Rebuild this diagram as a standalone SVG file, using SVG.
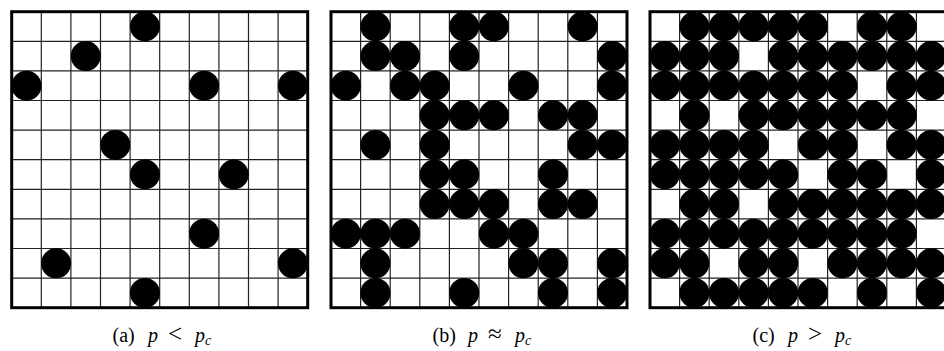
<svg xmlns="http://www.w3.org/2000/svg" xmlns:xlink="http://www.w3.org/1999/xlink" width="944" height="351" viewBox="0 0 944 351">
<style>
.grid{fill:none;stroke:#222;stroke-width:1.2}
.border{fill:none;stroke:#000;stroke-width:3}
.cap{font-family:"Liberation Serif",serif;font-size:20px;fill:#000}
.it{font-style:italic}
.op{font-size:25px}
</style>
<defs>
<circle id="dot" cx="0" cy="0" r="15" fill="#000"/>
<path id="lines" d="M29.6 0V296M59.2 0V296M88.8 0V296M118.4 0V296M148 0V296M177.6 0V296M207.2 0V296M236.8 0V296M266.4 0V296M0 29.6H296M0 59.2H296M0 88.8H296M0 118.4H296M0 148H296M0 177.6H296M0 207.2H296M0 236.8H296M0 266.4H296"/>
</defs>
<rect width="944" height="351" fill="#fff"/>
<g id="panel-a" transform="translate(11.7,11.7)">
<use href="#lines" class="grid"/>
<use href="#dot" x="133.2" y="14.8"/>
<use href="#dot" x="74" y="44.4"/>
<use href="#dot" x="14.8" y="74"/><use href="#dot" x="192.4" y="74"/><use href="#dot" x="281.2" y="74"/>
<use href="#dot" x="103.6" y="133.2"/>
<use href="#dot" x="133.2" y="162.8"/><use href="#dot" x="222" y="162.8"/>
<use href="#dot" x="192.4" y="222"/>
<use href="#dot" x="44.4" y="251.6"/><use href="#dot" x="281.2" y="251.6"/>
<use href="#dot" x="133.2" y="281.2"/>
<rect class="border" x="0" y="0" width="296" height="296"/>
</g>
<g id="panel-b" transform="translate(331,11.7)">
<use href="#lines" class="grid"/>
<use href="#dot" x="44.4" y="14.8"/><use href="#dot" x="133.2" y="14.8"/><use href="#dot" x="162.8" y="14.8"/><use href="#dot" x="251.6" y="14.8"/>
<use href="#dot" x="44.4" y="44.4"/><use href="#dot" x="74" y="44.4"/><use href="#dot" x="133.2" y="44.4"/><use href="#dot" x="281.2" y="44.4"/>
<use href="#dot" x="14.8" y="74"/><use href="#dot" x="74" y="74"/><use href="#dot" x="103.6" y="74"/><use href="#dot" x="192.4" y="74"/><use href="#dot" x="281.2" y="74"/>
<use href="#dot" x="103.6" y="103.6"/><use href="#dot" x="133.2" y="103.6"/><use href="#dot" x="162.8" y="103.6"/><use href="#dot" x="222" y="103.6"/><use href="#dot" x="251.6" y="103.6"/>
<use href="#dot" x="44.4" y="133.2"/><use href="#dot" x="103.6" y="133.2"/><use href="#dot" x="251.6" y="133.2"/><use href="#dot" x="281.2" y="133.2"/>
<use href="#dot" x="103.6" y="162.8"/><use href="#dot" x="133.2" y="162.8"/><use href="#dot" x="222" y="162.8"/>
<use href="#dot" x="103.6" y="192.4"/><use href="#dot" x="133.2" y="192.4"/><use href="#dot" x="162.8" y="192.4"/><use href="#dot" x="222" y="192.4"/><use href="#dot" x="251.6" y="192.4"/>
<use href="#dot" x="14.8" y="222"/><use href="#dot" x="44.4" y="222"/><use href="#dot" x="74" y="222"/><use href="#dot" x="162.8" y="222"/><use href="#dot" x="192.4" y="222"/>
<use href="#dot" x="44.4" y="251.6"/><use href="#dot" x="192.4" y="251.6"/><use href="#dot" x="222" y="251.6"/><use href="#dot" x="281.2" y="251.6"/>
<use href="#dot" x="44.4" y="281.2"/><use href="#dot" x="133.2" y="281.2"/><use href="#dot" x="222" y="281.2"/><use href="#dot" x="281.2" y="281.2"/>
<rect class="border" x="0" y="0" width="296" height="296"/>
</g>
<g id="panel-c" transform="translate(650,11.7)">
<use href="#lines" class="grid"/>
<use href="#dot" x="44.4" y="14.8"/><use href="#dot" x="74" y="14.8"/><use href="#dot" x="103.6" y="14.8"/><use href="#dot" x="133.2" y="14.8"/><use href="#dot" x="162.8" y="14.8"/><use href="#dot" x="222" y="14.8"/><use href="#dot" x="251.6" y="14.8"/>
<use href="#dot" x="14.8" y="44.4"/><use href="#dot" x="44.4" y="44.4"/><use href="#dot" x="74" y="44.4"/><use href="#dot" x="133.2" y="44.4"/><use href="#dot" x="162.8" y="44.4"/><use href="#dot" x="192.4" y="44.4"/><use href="#dot" x="222" y="44.4"/><use href="#dot" x="251.6" y="44.4"/><use href="#dot" x="281.2" y="44.4"/>
<use href="#dot" x="14.8" y="74"/><use href="#dot" x="44.4" y="74"/><use href="#dot" x="74" y="74"/><use href="#dot" x="103.6" y="74"/><use href="#dot" x="133.2" y="74"/><use href="#dot" x="162.8" y="74"/><use href="#dot" x="192.4" y="74"/><use href="#dot" x="251.6" y="74"/><use href="#dot" x="281.2" y="74"/>
<use href="#dot" x="44.4" y="103.6"/><use href="#dot" x="103.6" y="103.6"/><use href="#dot" x="133.2" y="103.6"/><use href="#dot" x="162.8" y="103.6"/><use href="#dot" x="192.4" y="103.6"/><use href="#dot" x="222" y="103.6"/><use href="#dot" x="251.6" y="103.6"/>
<use href="#dot" x="14.8" y="133.2"/><use href="#dot" x="44.4" y="133.2"/><use href="#dot" x="74" y="133.2"/><use href="#dot" x="103.6" y="133.2"/><use href="#dot" x="162.8" y="133.2"/><use href="#dot" x="192.4" y="133.2"/><use href="#dot" x="251.6" y="133.2"/><use href="#dot" x="281.2" y="133.2"/>
<use href="#dot" x="14.8" y="162.8"/><use href="#dot" x="44.4" y="162.8"/><use href="#dot" x="74" y="162.8"/><use href="#dot" x="103.6" y="162.8"/><use href="#dot" x="133.2" y="162.8"/><use href="#dot" x="192.4" y="162.8"/><use href="#dot" x="222" y="162.8"/><use href="#dot" x="281.2" y="162.8"/>
<use href="#dot" x="44.4" y="192.4"/><use href="#dot" x="74" y="192.4"/><use href="#dot" x="133.2" y="192.4"/><use href="#dot" x="162.8" y="192.4"/><use href="#dot" x="192.4" y="192.4"/><use href="#dot" x="222" y="192.4"/><use href="#dot" x="251.6" y="192.4"/><use href="#dot" x="281.2" y="192.4"/>
<use href="#dot" x="14.8" y="222"/><use href="#dot" x="44.4" y="222"/><use href="#dot" x="74" y="222"/><use href="#dot" x="103.6" y="222"/><use href="#dot" x="133.2" y="222"/><use href="#dot" x="162.8" y="222"/><use href="#dot" x="192.4" y="222"/><use href="#dot" x="222" y="222"/><use href="#dot" x="251.6" y="222"/>
<use href="#dot" x="14.8" y="251.6"/><use href="#dot" x="44.4" y="251.6"/><use href="#dot" x="103.6" y="251.6"/><use href="#dot" x="133.2" y="251.6"/><use href="#dot" x="192.4" y="251.6"/><use href="#dot" x="222" y="251.6"/><use href="#dot" x="251.6" y="251.6"/><use href="#dot" x="281.2" y="251.6"/>
<use href="#dot" x="44.4" y="281.2"/><use href="#dot" x="74" y="281.2"/><use href="#dot" x="103.6" y="281.2"/><use href="#dot" x="133.2" y="281.2"/><use href="#dot" x="162.8" y="281.2"/><use href="#dot" x="222" y="281.2"/><use href="#dot" x="281.2" y="281.2"/>
<rect class="border" x="0" y="0" width="296" height="296"/>
</g>
<g id="captions">
<text class="cap" y="342"><tspan x="112.5">(a)</tspan><tspan class="it" x="148">p</tspan><tspan class="op" x="168">&lt;</tspan><tspan class="it" x="195">p</tspan><tspan class="it" font-size="14" dy="3">c</tspan></text>
<text class="cap" y="342"><tspan x="432.5">(b)</tspan><tspan class="it" x="468">p</tspan><tspan class="op" x="488">≈</tspan><tspan class="it" x="515">p</tspan><tspan class="it" font-size="14" dy="3">c</tspan></text>
<text class="cap" y="342"><tspan x="752.5">(c)</tspan><tspan class="it" x="788">p</tspan><tspan class="op" x="808">&gt;</tspan><tspan class="it" x="835">p</tspan><tspan class="it" font-size="14" dy="3">c</tspan></text>
</g>
</svg>
